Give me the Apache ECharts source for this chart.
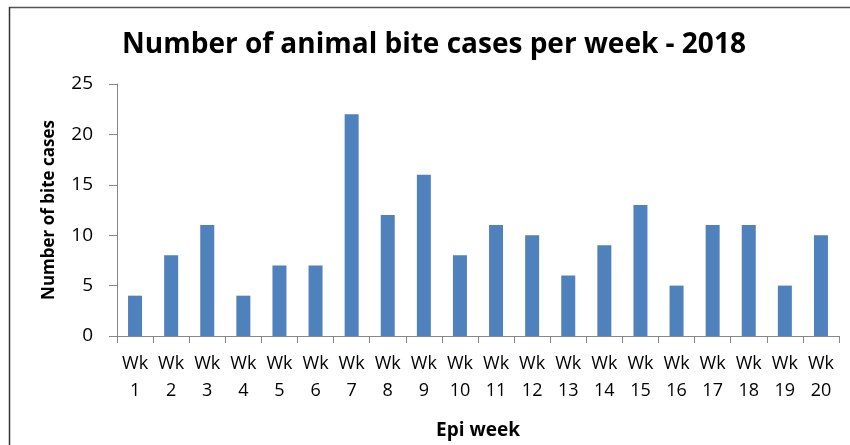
<!DOCTYPE html>
<html>
<head>
<meta charset="utf-8">
<script src="https://cdn.jsdelivr.net/npm/echarts@6/dist/echarts.min.js"></script>
<style>
html,body{margin:0;padding:0;background:#fff;}
#chart{width:850px;height:445px;}
</style>
</head>
<body>
<div id="chart"></div>
<script>
const categories = ["Wk\n1","Wk\n2","Wk\n3","Wk\n4","Wk\n5","Wk\n6","Wk\n7","Wk\n8","Wk\n9","Wk\n10","Wk\n11","Wk\n12","Wk\n13","Wk\n14","Wk\n15","Wk\n16","Wk\n17","Wk\n18","Wk\n19","Wk\n20"];
const biteCases = [4,8,11,4,7,7,22,12,16,8,11,10,6,9,13,5,11,11,5,10];
const titleText = "Number of animal bite cases per week - 2018";
const xName = "Epi week";
const yName = "Number of bite cases";

const chart = echarts.init(document.getElementById('chart'), null, {renderer:'canvas'});
const font = "'Open Sans', 'Noto Sans', sans-serif";
chart.setOption({
  animation: false,
  backgroundColor: '#fff',
  title: {
    text: titleText,
    left: 117,
    top: 22,
    textStyle: {fontFamily: font, fontWeight: 'bold', fontSize: 28, color: '#000', lineHeight: 36}
  },
  grid: {left: 117, right: 11, top: 84, bottom: 108, containLabel: false},
  xAxis: {
    type: 'category',
    data: categories,
    name: xName,
    nameLocation: 'middle',
    nameGap: 85,
    nameTextStyle: {fontFamily: font, fontWeight: 'bold', fontSize: 19, color: '#000'},
    axisLine: {lineStyle: {color: '#868686', width: 1}},
    axisTick: {show: true, length: 7, alignWithLabel: false, lineStyle: {color: '#868686'}},
    axisLabel: {fontFamily: font, fontSize: 18, color: '#000', lineHeight: 27, margin: 14, interval: 0}
  },
  yAxis: {
    type: 'value',
    min: 0, max: 25, interval: 5,
    name: yName,
    nameLocation: 'middle',
    nameGap: 59,
    nameRotate: 90,
    nameTextStyle: {fontFamily: font, fontWeight: 'bold', fontSize: 17, color: '#000'},
    axisLine: {show: true, lineStyle: {color: '#868686', width: 1}},
    axisTick: {show: true, length: 8, lineStyle: {color: '#868686'}},
    splitLine: {show: false},
    axisLabel: {fontFamily: font, fontSize: 19, color: '#000', margin: 24}
  },
  series: [{
    type: 'bar',
    data: biteCases,
    barWidth: 14,
    itemStyle: {color: '#4F81BD'}
  }],
  graphic: [
    {type: 'line', shape: {x1: 9, y1: 7.5, x2: 850, y2: 7.5}, style: {stroke: '#555', lineWidth: 1.5}},
    {type: 'line', shape: {x1: 9.5, y1: 7, x2: 9.5, y2: 445}, style: {stroke: '#333', lineWidth: 1.5}}
  ]
});
</script>
</body>
</html>
